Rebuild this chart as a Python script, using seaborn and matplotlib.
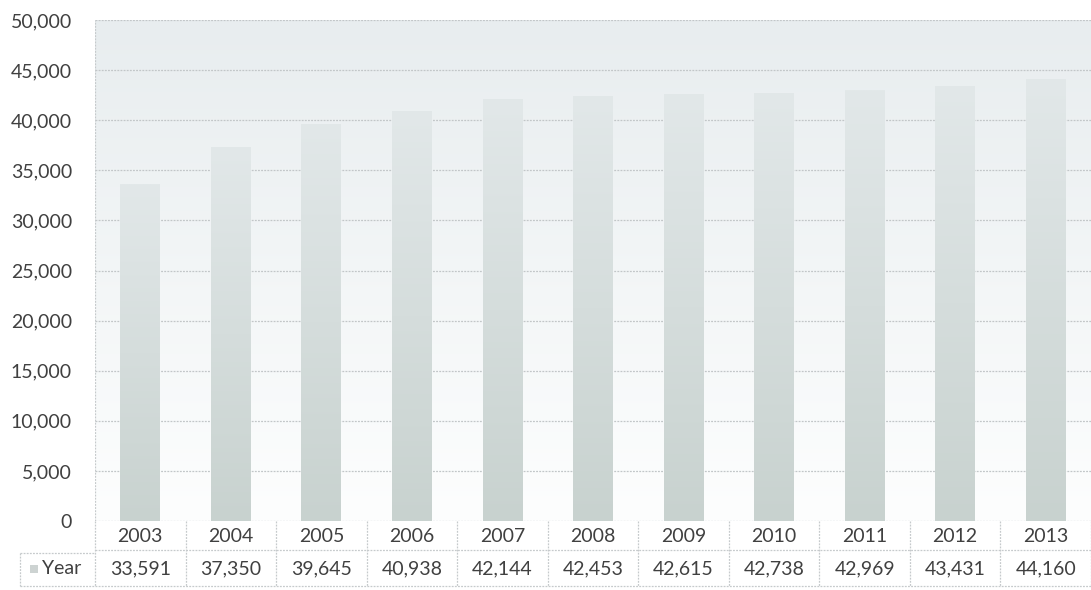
import numpy as np
import pandas as pd
import matplotlib
matplotlib.use("Agg")
import matplotlib.pyplot as plt
from matplotlib.colors import LinearSegmentedColormap
from matplotlib.transforms import blended_transform_factory
import seaborn as sns

years = ["2003", "2004", "2005", "2006", "2007", "2008", "2009", "2010", "2011", "2012", "2013"]
values = [33591, 37350, 39645, 40938, 42144, 42453, 42615, 42738, 42969, 43431, 44160]
series_name = "Year"
y_ticks = list(range(0, 50001, 5000))

sns.set_theme(style="white")
plt.rcParams["font.family"] = ["Lato", "DejaVu Sans"]

FS = 14
TXT = "#404040"

W, H = 1091, 590
fig = plt.figure(figsize=(W / 100, H / 100), dpi=100)
left_px, right_px, top_px, bottom_px = 95, 1091, 20, 521
ax = fig.add_axes([left_px / W, 1 - bottom_px / H, (right_px - left_px) / W, (bottom_px - top_px) / H])

df = pd.DataFrame({"year": years, "value": values})
sns.barplot(data=df, x="year", y="value", ax=ax, color="#cad3d1", width=0.44,
            saturation=1, linewidth=0, edgecolor="none", zorder=2)

ax.set_xlim(-0.5, len(years) - 0.5)
ax.set_ylim(0, 50000)

# plot-area background: pale blue-grey fading to white towards the baseline
bg_cmap = LinearSegmentedColormap.from_list("bg", ["#fdfefe", "#e8edef"])
grad = np.linspace(0, 1, 256).reshape(-1, 1)
ax.imshow(grad, cmap=bg_cmap, aspect="auto", origin="lower",
          extent=[-0.5, len(years) - 0.5, 0, 50000], zorder=0)

# bar fill: soft vertical gradient clipped to each bar
bar_cmap = LinearSegmentedColormap.from_list("bar", ["#c8d2cf", "#e2e8e9"])
for p in ax.patches:
    x0, y0 = p.get_x(), p.get_y()
    w, h = p.get_width(), p.get_height()
    im = ax.imshow(grad, cmap=bar_cmap, aspect="auto", origin="lower",
                   extent=[x0, x0 + w, y0, y0 + h], zorder=2.5)
    im.set_clip_path(p)
ax.set_xlim(-0.5, len(years) - 0.5)
ax.set_ylim(0, 50000)

# gridlines
for t in y_ticks:
    ax.axhline(t, color="#c2c6c8", lw=0.9, ls=(0, (1.5, 1.0)), zorder=1)

for s in ax.spines.values():
    s.set_visible(False)
ax.axvline(-0.5, color="#c6cacc", lw=0.9, ls=(0, (1.5, 1.0)), zorder=1)

ax.set_yticks(y_ticks)
ax.set_yticklabels([f"{t:,}" for t in y_ticks], fontsize=FS, color=TXT)
ax.tick_params(axis="y", length=0, pad=16.5)
ax.set_xticks([])
ax.set_xlabel("")
ax.set_ylabel("")

# data table below the axis
ah = bottom_px - top_px
def ay(px):
    return (bottom_px - px) / ah

tr = blended_transform_factory(ax.transData, ax.transAxes)
line_kw = dict(color="#c6cacc", lw=0.9, ls=(0, (1.5, 1.0)), clip_on=False, zorder=3)
n = len(years)
for i in range(n + 1):
    b = i - 0.5
    ax.plot([b, b], [ay(521), ay(586)], transform=tr, **line_kw)
ax.plot([-0.5, n - 0.5], [ay(550), ay(550)], transform=tr, **line_kw)
ax.plot([-0.5, n - 0.5], [ay(586), ay(586)], transform=tr, **line_kw)

for i, (yr, v) in enumerate(zip(years, values)):
    ax.text(i, ay(536), yr, transform=tr, ha="center", va="center",
            fontsize=FS, color=TXT, clip_on=False)
    ax.text(i, ay(569), f"{v:,}", transform=tr, ha="center", va="center",
            fontsize=FS, color=TXT, clip_on=False)

# legend cell of the table
ftr = fig.transFigure
def fx(px):
    return px / W
def fy(px):
    return 1 - px / H
cell_kw = dict(color="#c6cacc", lw=0.9, ls=(0, (1.5, 1.0)), transform=ftr)
fig.add_artist(plt.Line2D([fx(20), fx(95)], [fy(553), fy(553)], **cell_kw))
fig.add_artist(plt.Line2D([fx(20), fx(95)], [fy(586), fy(586)], **cell_kw))
fig.add_artist(plt.Line2D([fx(20), fx(20)], [fy(553), fy(586)], **cell_kw))
fig.add_artist(plt.Rectangle((fx(30), fy(573)), 8 / W, 8 / H, transform=ftr,
                             facecolor="#cdd3d2", edgecolor="none"))
fig.text(fx(42), fy(569), series_name, ha="left", va="center",
         fontsize=FS, color=TXT)

fig.savefig("out.png", dpi=100, facecolor="white")
